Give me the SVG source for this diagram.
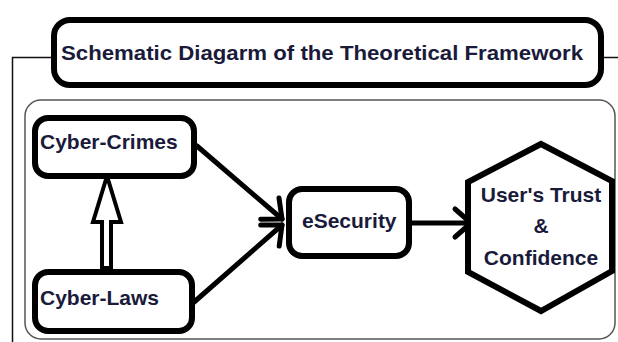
<svg xmlns="http://www.w3.org/2000/svg" width="618" height="342" viewBox="0 0 618 342">
<style>
.box{fill:#fff;stroke:#000;stroke-width:6}
.lbl{font-family:"Liberation Sans",Arial,sans-serif;font-weight:bold;font-size:21px;fill:#1a1a3a}
.thin{fill:none;stroke:#111;stroke-width:1.5}
.conn{fill:none;stroke:#000;stroke-width:5;stroke-linecap:round}
</style>
<defs>
<marker id="v" markerUnits="userSpaceOnUse" markerWidth="40" markerHeight="50" refX="0" refY="0" viewBox="-25 -25 30 50" orient="auto" overflow="visible">
<path d="M-16,-14 L0,0 L-16,14" fill="none" stroke="#000" stroke-width="5" stroke-linecap="round" stroke-linejoin="round"/>
</marker>
</defs>
<rect width="618" height="342" fill="#fff"/>
<g id="frame">
<path class="thin" d="M12.5,342 V57.5 H54"/>
<path class="thin" d="M601,57.5 H618"/>
<rect x="25" y="100" width="590" height="239" rx="16" fill="none" stroke="#555" stroke-width="1.5"/>
</g>
<g id="title">
<rect class="box" x="54" y="20" width="547" height="65" rx="16" stroke-width="7"/>
<text class="lbl" x="61" y="60" font-size="22" textLength="522" lengthAdjust="spacingAndGlyphs">Schematic Diagarm of the Theoretical Framework</text>
</g>
<g id="connectors">
<polygon points="102,268 102,222 93,222 107,176 121,222 111,222 111,268" fill="#fff" stroke="#000" stroke-width="4" stroke-linejoin="miter"/>
<line class="conn" x1="197" y1="146" x2="282" y2="219" marker-end="url(#v)"/>
<line class="conn" x1="193" y1="303" x2="282" y2="225" marker-end="url(#v)"/>
<line class="conn" x1="410" y1="223" x2="471" y2="223" marker-end="url(#v)"/>
</g>
<g id="cybercrimes">
<rect class="box" x="35" y="118" width="159" height="58" rx="13"/>
<text class="lbl" x="40" y="149">Cyber-Crimes</text>
</g>
<g id="cyberlaws">
<rect class="box" x="35" y="272" width="157" height="59" rx="13"/>
<text class="lbl" x="40" y="305">Cyber-Laws</text>
</g>
<g id="esecurity">
<rect class="box" x="289" y="189" width="120" height="67" rx="13"/>
<text class="lbl" x="302" y="228">eSecurity</text>
</g>
<g id="trust">
<polygon class="box" points="541,144 612,181 612,271 541,311 468,272 468,182"/>
<text class="lbl" text-anchor="middle"><tspan x="541" y="202">User's Trust</tspan><tspan x="541" y="233">&amp;</tspan><tspan x="541" y="265">Confidence</tspan></text>
</g>
</svg>
